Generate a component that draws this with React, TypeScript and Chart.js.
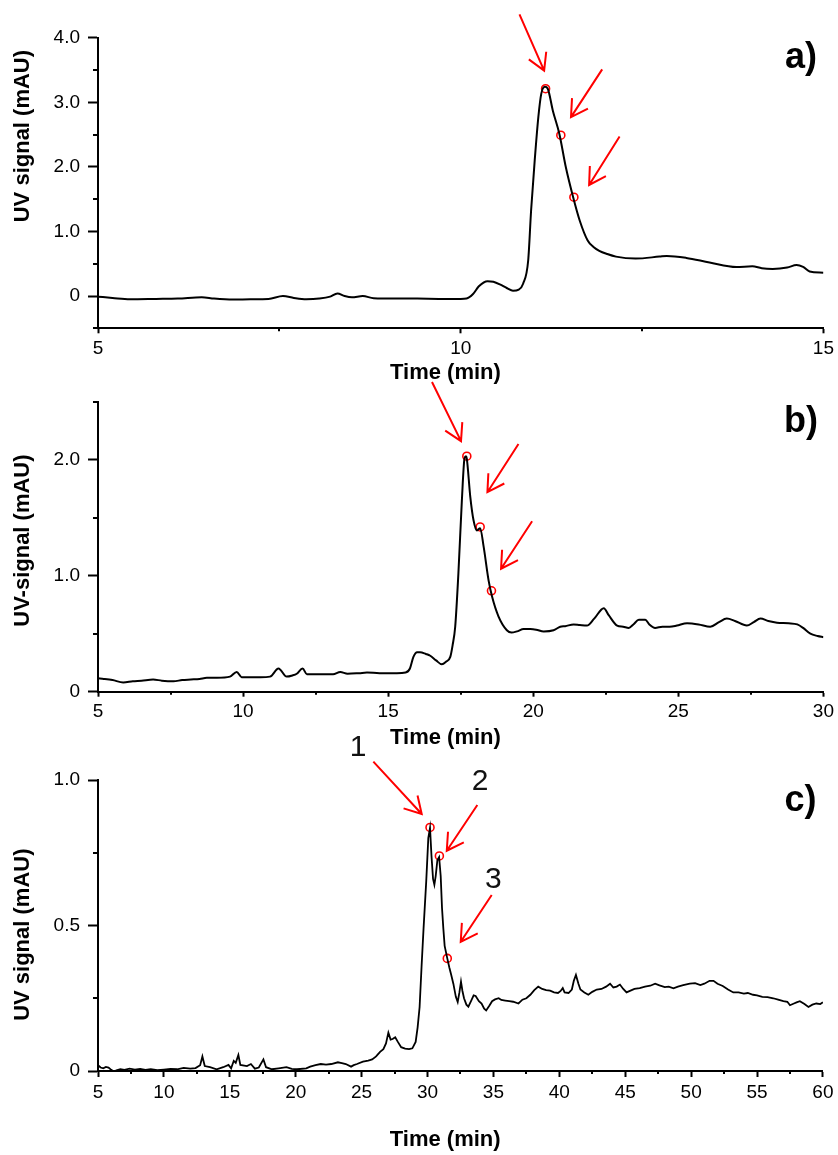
import { useEffect, useRef } from 'react';
import { Chart, registerables } from 'chart.js';

Chart.register(...registerables);

const FONT = "'Liberation Sans', Arial, Helvetica, sans-serif";
const NB = '\u00a0';

// ---------------- Panel a ----------------
const timeA = [
  5.0, 5.2, 5.44, 5.8, 6.1, 6.43, 6.6, 6.86, 7.1, 7.35,
  7.55, 7.7, 7.87, 8.05, 8.2, 8.3, 8.4, 8.5, 8.65, 8.8,
  9.1, 9.4, 9.7, 10.0, 10.08, 10.17, 10.25, 10.37, 10.45, 10.54,
  10.64, 10.72, 10.8, 10.86, 10.93, 10.97, 11.02, 11.07, 11.11, 11.16,
  11.2, 11.27, 11.36, 11.45, 11.55, 11.64, 11.75, 11.83, 11.91, 12.02,
  12.14, 12.41, 12.74, 12.84, 13.11, 13.43, 13.8, 14.02, 14.15, 14.3,
  14.5, 14.63, 14.72, 14.81, 15.0,
];
const signalA = [
  -0.01, -0.03, -0.05, -0.045, -0.04, -0.02, -0.04, -0.055, -0.05, -0.045,
  0.0, -0.03, -0.05, -0.04, -0.01, 0.04, 0.0, -0.02, 0.0, -0.035,
  -0.04, -0.04, -0.045, -0.045, -0.04, 0.03, 0.15, 0.23, 0.22, 0.18,
  0.12, 0.08, 0.1, 0.19, 0.55, 1.32, 2.1, 2.77, 3.13, 3.24,
  3.21, 2.87, 2.51, 1.99, 1.53, 1.17, 0.86, 0.76, 0.7, 0.65,
  0.61, 0.58, 0.61, 0.62, 0.59, 0.52, 0.45, 0.46, 0.43, 0.42,
  0.44, 0.48, 0.45, 0.38, 0.36,
];
const markTimeA = [11.17, 11.38, 11.56];
const markSignalA = [3.21, 2.49, 1.53];
const arrowTailA = [[10.81, 4.36], [11.95, 3.51], [12.19, 2.47]];
const arrowTipA = [[11.15, 3.49], [11.52, 2.77], [11.77, 1.72]];
const xTicksA = [5, 10, 15];
const xMinorA = [7.5, 12.5];
const yTicksA = [0, 1, 2, 3, 4];
const yMinorA = [-0.5, 0.5, 1.5, 2.5, 3.5];

// ---------------- Panel b ----------------
const timeB = [
  5.0, 5.2, 5.5, 5.87, 6.2, 6.5, 6.9, 7.2, 7.6, 7.9,
  8.2, 8.5, 8.75, 9.1, 9.55, 9.78, 9.95, 10.3, 10.6, 10.93,
  11.22, 11.5, 11.7, 11.85, 12.05, 12.2, 12.6, 13.1, 13.35, 13.6,
  14.0, 14.27, 14.7, 15.0, 15.3, 15.6, 15.75, 15.87, 16.0, 16.1,
  16.3, 16.45, 16.65, 16.85, 17.0, 17.14, 17.22, 17.31, 17.42, 17.54,
  17.63, 17.68, 17.71, 17.83, 17.94, 18.06, 18.17, 18.29, 18.46, 18.58,
  18.8, 19.09, 19.25, 19.44, 19.67, 19.9, 20.1, 20.36, 20.7, 20.93,
  21.1, 21.39, 21.6, 21.85, 22.1, 22.43, 22.6, 22.89, 23.1, 23.29,
  23.45, 23.64, 23.86, 24.0, 24.2, 24.45, 24.7, 24.95, 25.3, 25.7,
  26.1, 26.4, 26.67, 26.95, 27.36, 27.6, 27.83, 28.1, 28.4, 28.8,
  29.1, 29.3, 29.55, 29.8, 30.0,
];
const signalB = [
  0.115, 0.11, 0.1, 0.08, 0.09, 0.095, 0.105, 0.095, 0.09, 0.1,
  0.105, 0.11, 0.12, 0.12, 0.13, 0.17, 0.125, 0.125, 0.125, 0.13,
  0.2, 0.13, 0.14, 0.155, 0.2, 0.15, 0.15, 0.15, 0.17, 0.155,
  0.16, 0.165, 0.16, 0.16, 0.16, 0.165, 0.2, 0.3, 0.34, 0.34,
  0.325, 0.31, 0.27, 0.236, 0.26, 0.3, 0.4, 0.56, 1.02, 1.65,
  2.01, 2.03, 2.01, 1.68, 1.48, 1.39, 1.41, 1.25, 0.96, 0.82,
  0.65, 0.53, 0.51, 0.52, 0.54, 0.54, 0.535, 0.52, 0.53, 0.56,
  0.565, 0.58, 0.575, 0.57, 0.63, 0.72, 0.66, 0.57, 0.56, 0.55,
  0.58, 0.62, 0.62, 0.58, 0.55, 0.56, 0.56, 0.57, 0.59, 0.58,
  0.56, 0.6, 0.63, 0.61, 0.57, 0.6, 0.63, 0.61, 0.595, 0.59,
  0.58, 0.55, 0.5, 0.48, 0.47,
];
const markTimeB = [17.71, 18.17, 18.56];
const markSignalB = [2.03, 1.42, 0.87];
const arrowTailB = [[16.51, 2.67], [19.49, 2.135], [19.96, 1.47]];
const arrowTipB = [[17.51, 2.16], [18.42, 1.72], [18.89, 1.06]];
const xTicksB = [5, 10, 15, 20, 25, 30];
const xMinorB = [7.5, 12.5, 17.5, 22.5, 27.5];
const yTicksB = [0, 1, 2];
const yMinorB = [0.5, 1.5, 2.5];

// ---------------- Panel c ----------------
const timeC = [
  5.0, 5.2, 5.4, 5.6, 5.8, 6.0, 6.2, 6.4, 6.7, 7.0,
  7.4, 7.8, 8.2, 8.6, 9.0, 9.5, 10.0, 10.5, 11.0, 11.5,
  12.0, 12.4, 12.75, 12.92, 13.1, 13.5, 14.0, 14.5, 14.9, 15.1,
  15.3, 15.45, 15.65, 15.8, 16.3, 16.6, 16.9, 17.2, 17.55, 17.75,
  18.2, 18.7, 19.3, 19.7, 20.1, 20.8, 21.1, 21.5, 21.9, 22.3,
  22.7, 23.2, 23.5, 23.8, 24.2, 24.4, 24.65, 25.1, 25.5, 25.8,
  26.1, 26.4, 26.65, 26.85, 27.03, 27.2, 27.35, 27.55, 27.75, 28.0,
  28.3, 28.6, 28.85, 29.1, 29.25, 29.4, 29.55, 29.7, 29.9, 30.06,
  30.19, 30.3, 30.42, 30.52, 30.62, 30.75, 30.88, 31.0, 31.1, 31.2,
  31.3, 31.5, 31.66, 31.8, 31.96, 32.15, 32.29, 32.42, 32.54, 32.65,
  32.77, 32.95, 33.1, 33.3, 33.5, 33.65, 33.9, 34.1, 34.3, 34.45,
  34.7, 34.9, 35.12, 35.4, 35.6, 35.9, 36.2, 36.5, 36.9, 37.2,
  37.5, 37.8, 38.1, 38.4, 38.7, 39.0, 39.3, 39.6, 39.9, 40.1,
  40.26, 40.4, 40.7, 40.95, 41.1, 41.26, 41.45, 41.6, 41.9, 42.2,
  42.5, 42.84, 43.2, 43.55, 43.85, 44.1, 44.35, 44.6, 44.85, 45.1,
  45.4, 45.7, 46.1, 46.5, 46.9, 47.27, 47.6, 48.0, 48.3, 48.66,
  49.0, 49.4, 49.9, 50.3, 50.7, 51.0, 51.4, 51.7, 52.0, 52.4,
  52.8, 53.2, 53.6, 54.0, 54.3, 54.7, 55.0, 55.4, 55.8, 56.23,
  56.6, 57.0, 57.3, 57.5, 57.8, 58.0, 58.25, 58.6, 58.9, 59.2,
  59.5, 59.8, 60.0,
];
const signalC = [
  0.02, 0.012, 0.009, 0.014, 0.012, 0.004, -0.002, 0.002, 0.006, 0.004,
  0.008, 0.005, 0.007, 0.004, 0.006, 0.003, 0.005, 0.007, 0.006, 0.011,
  0.008, 0.01, 0.02, 0.05, 0.017, 0.013, 0.006, 0.013, 0.021, 0.009,
  0.035, 0.028, 0.055, 0.021, 0.017, 0.024, 0.008, 0.012, 0.04, 0.013,
  0.006, 0.009, 0.013, 0.007, 0.006, 0.009, 0.015, 0.02, 0.024, 0.022,
  0.024, 0.03, 0.027, 0.024, 0.015, 0.02, 0.024, 0.032, 0.036, 0.04,
  0.05, 0.066, 0.075, 0.095, 0.132, 0.108, 0.11, 0.116, 0.1, 0.082,
  0.077, 0.075, 0.078, 0.1, 0.15, 0.22, 0.36, 0.49, 0.65, 0.8,
  0.835, 0.74, 0.66, 0.64, 0.67, 0.725, 0.735, 0.67, 0.56, 0.49,
  0.43, 0.387, 0.355, 0.33, 0.3, 0.255, 0.237, 0.27, 0.307, 0.275,
  0.25, 0.228, 0.221, 0.24, 0.26, 0.258, 0.24, 0.232, 0.214, 0.208,
  0.225, 0.24, 0.246, 0.25, 0.244, 0.242, 0.24, 0.238, 0.232, 0.245,
  0.25, 0.262, 0.278, 0.29, 0.282, 0.278, 0.276, 0.27, 0.268, 0.275,
  0.285, 0.27, 0.268, 0.28, 0.31, 0.33, 0.3, 0.28, 0.27, 0.262,
  0.272, 0.28, 0.282, 0.29, 0.3, 0.287, 0.29, 0.297, 0.282, 0.27,
  0.276, 0.282, 0.285, 0.29, 0.293, 0.3, 0.294, 0.288, 0.29, 0.284,
  0.29, 0.295, 0.3, 0.302, 0.295, 0.3, 0.31, 0.31, 0.3, 0.292,
  0.28, 0.27, 0.27, 0.266, 0.268, 0.262, 0.26, 0.255, 0.254, 0.25,
  0.245, 0.24, 0.238, 0.226, 0.232, 0.236, 0.24, 0.23, 0.22, 0.228,
  0.232, 0.23, 0.236,
];
const markTimeC = [30.19, 30.9, 31.5];
const markSignalC = [0.837, 0.739, 0.387];
const arrowTailC = [[25.89, 1.063], [33.78, 0.914], [34.87, 0.605]];
const arrowTipC = [[29.56, 0.883], [31.46, 0.757], [32.52, 0.444]];
const fractionTextC = ['1', '2', '3'];
const fractionTimeC = [24.73, 33.98, 34.99];
const fractionSignalC = [1.11, 0.994, 0.656];
const xTicksC = [5, 10, 15, 20, 25, 30, 35, 40, 45, 50, 55, 60];
const xMinorC = [7.5, 12.5, 17.5, 22.5, 27.5, 32.5, 37.5, 42.5, 47.5, 52.5, 57.5];
const yTicksC = [0, 0.5, 1];
const yMinorC = [0.25, 0.75];

const W = 838;
const H = 1155;

type Panel = {
  label: string;
  time: number[];
  signal: number[];
  markTime: number[];
  markSignal: number[];
  arrowTail: number[][];
  arrowTip: number[][];
  texts: string[];
  textTime: number[];
  textSignal: number[];
  xMin: number;
  xMax: number;
  yMin: number;
  yMax: number;
  xTicks: number[];
  xMinor: number[];
  yTicks: number[];
  yMinor: number[];
  yTitle: string;
  yTitleAlign: 'start' | 'center' | 'end';
  top: number;
  bottom: number;
  xAxisHeight: number;
  xTickLen: number;
  xTickPad: number;
  lineWidth: number;
  smooth: boolean;
};

const panels: Panel[] = [
  {
    label: 'a)', time: timeA, signal: signalA, markTime: markTimeA, markSignal: markSignalA,
    arrowTail: arrowTailA, arrowTip: arrowTipA, texts: [], textTime: [], textSignal: [],
    xMin: 5, xMax: 15, yMin: -0.5, yMax: 4, xTicks: xTicksA, xMinor: xMinorA, yTicks: yTicksA, yMinor: yMinorA,
    yTitle: 'UV signal (mAU)' + NB + NB, yTitleAlign: 'end',
    top: 37.7, bottom: 328.3, xAxisHeight: 58.2, xTickLen: 5, xTickPad: 4, lineWidth: 2, smooth: true,
  },
  {
    label: 'b)', time: timeB, signal: signalB, markTime: markTimeB, markSignal: markSignalB,
    arrowTail: arrowTailB, arrowTip: arrowTipB, texts: [], textTime: [], textSignal: [],
    xMin: 5, xMax: 30, yMin: 0, yMax: 2.5, xTicks: xTicksB, xMinor: xMinorB, yTicks: yTicksB, yMinor: yMinorB,
    yTitle: NB + NB + 'UV-signal (mAU)', yTitleAlign: 'center',
    top: 401.7, bottom: 691.7, xAxisHeight: 59.5, xTickLen: 5, xTickPad: 4, lineWidth: 2, smooth: true,
  },
  {
    label: 'c)', time: timeC, signal: signalC, markTime: markTimeC, markSignal: markSignalC,
    arrowTail: arrowTailC, arrowTip: arrowTipC, texts: fractionTextC, textTime: fractionTimeC, textSignal: fractionSignalC,
    xMin: 5, xMax: 60, yMin: 0, yMax: 1, xTicks: xTicksC, xMinor: xMinorC, yTicks: yTicksC, yMinor: yMinorC,
    yTitle: 'UV signal (mAU)' + NB + NB + NB, yTitleAlign: 'center',
    top: 780, bottom: 1071, xAxisHeight: 82.2, xTickLen: 6, xTickPad: 4.5, lineWidth: 1.8, smooth: false,
  },
];

function extras(p: Panel) {
  return {
    id: 'extras',
    afterDraw(chart: any) {
      const { ctx, chartArea } = chart;
      const xs = chart.scales.x;
      const ys = chart.scales.y;
      ctx.save();
      // minor ticks
      ctx.strokeStyle = '#000';
      ctx.lineWidth = 2;
      p.xMinor.forEach((v) => {
        const px = Math.round(xs.getPixelForValue(v));
        ctx.beginPath();
        ctx.moveTo(px, chartArea.bottom);
        ctx.lineTo(px, chartArea.bottom + 3);
        ctx.stroke();
      });
      p.yMinor.forEach((v) => {
        const py = Math.round(ys.getPixelForValue(v));
        ctx.beginPath();
        ctx.moveTo(chartArea.left, py);
        ctx.lineTo(chartArea.left - 5, py);
        ctx.stroke();
      });
      // arrows
      ctx.strokeStyle = '#ff0000';
      ctx.lineWidth = 2;
      p.arrowTail.forEach((tail, i) => {
        const tip = p.arrowTip[i];
        const x0 = xs.getPixelForValue(tail[0]);
        const y0 = ys.getPixelForValue(tail[1]);
        const x1 = xs.getPixelForValue(tip[0]);
        const y1 = ys.getPixelForValue(tip[1]);
        const ang = Math.atan2(y0 - y1, x0 - x1);
        const hl = 19;
        const spread = (30 * Math.PI) / 180;
        ctx.beginPath();
        ctx.moveTo(x0, y0);
        ctx.lineTo(x1, y1);
        ctx.moveTo(x1 + hl * Math.cos(ang - spread), y1 + hl * Math.sin(ang - spread));
        ctx.lineTo(x1, y1);
        ctx.lineTo(x1 + hl * Math.cos(ang + spread), y1 + hl * Math.sin(ang + spread));
        ctx.stroke();
      });
      // numbered fractions
      ctx.fillStyle = '#111';
      ctx.font = `30px ${FONT}`;
      ctx.textAlign = 'center';
      ctx.textBaseline = 'middle';
      p.texts.forEach((t, i) => {
        ctx.fillText(t, xs.getPixelForValue(p.textTime[i]), ys.getPixelForValue(p.textSignal[i]));
      });
      // panel label
      ctx.fillStyle = '#000';
      ctx.font = `bold 36px ${FONT}`;
      ctx.textAlign = 'center';
      ctx.textBaseline = 'alphabetic';
      ctx.fillText(p.label, chartArea.right - 22.5, chartArea.top + 30.5);
      ctx.restore();
    },
  };
}

function makeChart(canvas: HTMLCanvasElement, p: Panel) {
  const yLabel = (v: number) => (v === 0 ? '0' : v.toFixed(1));
  return new Chart(canvas, {
    type: 'line',
    data: {
      datasets: [
        {
          data: p.time.map((t, i) => ({ x: t, y: p.signal[i] })),
          borderColor: '#000',
          borderWidth: p.lineWidth,
          pointRadius: 0,
          fill: false,
          tension: 0,
          cubicInterpolationMode: p.smooth ? 'monotone' : 'default',
        },
        {
          data: p.markTime.map((t, i) => ({ x: t, y: p.markSignal[i] })),
          showLine: false,
          pointRadius: 4,
          pointBorderWidth: 1.6,
          pointBorderColor: '#ff0000',
          pointBackgroundColor: 'rgba(255,255,255,0)',
          borderColor: '#ff0000',
        },
      ],
    } as any,
    options: {
      responsive: false,
      animation: false,
      events: [],
      layout: {
        padding: { left: 0, right: W - 824, top: p.top, bottom: H - p.bottom - p.xAxisHeight },
      },
      plugins: { legend: { display: false }, tooltip: { enabled: false } },
      scales: {
        x: {
          type: 'linear',
          min: p.xMin,
          max: p.xMax,
          afterBuildTicks: (s: any) => {
            s.ticks = p.xTicks.map((v) => ({ value: v }));
          },
          afterFit: (s: any) => {
            s.height = p.xAxisHeight;
          },
          grid: {
            display: true,
            drawOnChartArea: false,
            drawTicks: true,
            tickLength: p.xTickLen,
            tickWidth: 2,
            tickColor: '#000',
            color: '#000',
          },
          border: { display: true, color: '#000', width: 2 },
          ticks: {
            color: '#000',
            padding: p.xTickPad,
            maxRotation: 0,
            autoSkip: false,
            font: { size: 19, family: FONT },
            callback: (v: any) => String(v),
          },
          title: {
            display: true,
            text: 'Time (min)' + NB.repeat(5),
            color: '#000',
            font: { size: 22, weight: 'bold', family: FONT },
            padding: { top: 0, bottom: 0 },
          },
        },
        y: {
          type: 'linear',
          min: p.yMin,
          max: p.yMax,
          afterBuildTicks: (s: any) => {
            s.ticks = p.yTicks.map((v) => ({ value: v }));
          },
          afterFit: (s: any) => {
            s.width = 98;
          },
          grid: {
            display: true,
            drawOnChartArea: false,
            drawTicks: true,
            tickLength: 10,
            tickWidth: 2,
            tickColor: '#000',
            color: '#000',
          },
          border: { display: true, color: '#000', width: 2 },
          ticks: {
            color: '#000',
            padding: 8,
            autoSkip: false,
            font: { size: 19, family: FONT },
            callback: (v: any) => yLabel(Number(v)),
          },
          title: {
            display: true,
            text: p.yTitle,
            align: p.yTitleAlign,
            color: '#000',
            font: { size: 22, weight: 'bold', family: FONT },
            padding: { top: 10, bottom: 0 },
          },
        },
      },
    } as any,
    plugins: [extras(p)],
  });
}

export default function App() {
  const refs = useRef<(HTMLCanvasElement | null)[]>([]);
  useEffect(() => {
    Chart.defaults.font.family = FONT;
    const charts = panels.map((p, i) => makeChart(refs.current[i] as HTMLCanvasElement, p));
    return () => charts.forEach((c) => c.destroy());
  }, []);
  return (
    <div style={{ position: 'absolute', left: 0, top: 0, width: W, height: H, background: '#fff' }}>
      {panels.map((p, i) => (
        <canvas
          key={p.label}
          ref={(el) => {
            refs.current[i] = el;
          }}
          width={W}
          height={H}
          style={{ position: 'absolute', left: 0, top: 0, width: W, height: H }}
        />
      ))}
    </div>
  );
}
